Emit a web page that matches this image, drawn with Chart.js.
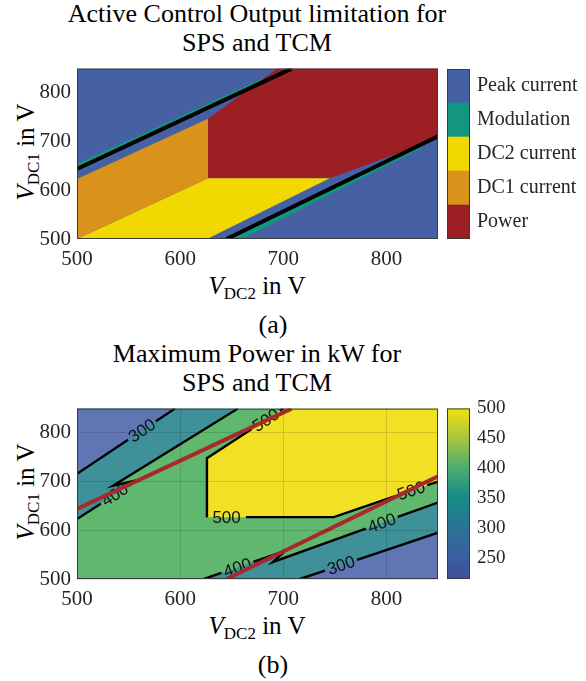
<!DOCTYPE html>
<html>
<head>
<meta charset="utf-8">
<script src="https://cdn.jsdelivr.net/npm/chart.js@4.4.1/dist/chart.umd.min.js"></script>
<style>
  body { margin: 0; background: #fff; }
  #page { position: relative; width: 586px; height: 681px; overflow: hidden; font-family: "Liberation Serif", "Times New Roman", "DejaVu Serif", serif; color: #000; }
  .t { position: absolute; white-space: nowrap; text-align: center; transform: translate(-50%, -50%); line-height: 1; }
  .big { font-size: 26px; }
  .lab { font-size: 25px; }
  .rot { transform: translate(-50%, -50%) rotate(-90deg); }
  .v { font-style: italic; }
  .sub { font-size: 0.68em; position: relative; top: 0.32em; }
  canvas { position: absolute; }
</style>
</head>
<body>
<div id="page">
  <div class="t big" style="left:257px;top:28px;line-height:29px">Active Control Output limitation for<br>SPS and TCM</div>
  <div class="t lab rot" style="left:25px;top:152px"><span class="v">V</span><span class="sub">DC1</span> in V</div>
  <div class="t lab" style="left:257px;top:285px"><span class="v">V</span><span class="sub">DC2</span> in V</div>
  <div class="t big" style="left:273px;top:325px">(a)</div>

  <div class="t big" style="left:257px;top:368px;line-height:29px">Maximum Power in kW for<br>SPS and TCM</div>
  <div class="t lab rot" style="left:25px;top:492px"><span class="v">V</span><span class="sub">DC1</span> in V</div>
  <div class="t lab" style="left:257px;top:625px"><span class="v">V</span><span class="sub">DC2</span> in V</div>
  <div class="t big" style="left:273px;top:665px">(b)</div>

  <canvas id="modeChart" width="445" height="230" style="left:0;top:50px"></canvas>
  <canvas id="modeBar" width="146" height="230" style="left:440px;top:50px"></canvas>
  <canvas id="powerChart" width="445" height="230" style="left:0;top:390px"></canvas>
  <canvas id="powerBar" width="146" height="230" style="left:440px;top:390px"></canvas>
</div>
<script>
const xTicks = [500, 600, 700, 800];
const yTicks = [500, 600, 700, 800];

// (a) operating modes, top to bottom as in the colour bar
const modeNames = ["Peak current", "Modulation", "DC2 current", "DC1 current", "Power"];
const modeColors = ["#4561a3", "#12967f", "#f1d800", "#d9931b", "#9b1f23"];

// regions as [VDC2, VDC1] corners
const peakRegion = [[500, 500], [850, 500], [850, 850], [500, 850]];
const modulationUpper = [[500, 640], [500, 654], [686, 836], [700, 842]];
const modulationLower = [[645, 500], [660, 500], [835, 688], [830, 692]];
const dc1Region = [[500, 500], [500, 623], [627, 747], [627, 625]];
const dc2Region = [[500, 500], [626, 500], [745, 625], [627, 625]];
const powerRegion = [[627, 625], [745, 625], [850, 706], [850, 850], [694, 850], [627, 747]];
const boundaryUpper = [[500, 644], [708, 850]];
const boundaryLower = [[645, 500], [850, 711]];

// (b) maximum power levels in kW
const levelColors = { below300: "#6076b4", from300: "#3e9199", from400: "#60b76e", above500: "#f2e024" };
const level400to500 = [[500, 500], [850, 500], [850, 850], [500, 850]];
const level300Upper = [[500, 623], [557.6, 702.5], [535, 691.5], [656, 850], [500, 850]];
const level300Lower = [[623, 500], [702, 558], [690, 535], [850, 657], [850, 500]];
const below300Upper = [[500, 716], [595, 850], [500, 850]];
const below300Lower = [[716, 500], [850, 595], [850, 500]];
const above500 = [[626, 748], [700, 850], [850, 850], [850, 700], [749, 627], [626, 627]];

// contour lines, null = gap for a label
const contour300 = [[500, 716], [549.5, 786], null, [576.5, 824], [595, 850], null,
  [716, 500], [740.5, 517.4], null, [771.5, 539.3], [850, 595]];
const contour400 = [[500, 623], [523, 654.7], null, [550.2, 692.3], [557.6, 702.5], [535, 691.5], [656, 850], null,
  [623, 500], [640, 512.5], null, [671, 535.2], [702, 558], [690, 535], [780, 603.7], null, [811, 627.4], [850, 657]];
const contour500 = [[700, 850], [696.6, 845.4], null, [669.4, 808], [626, 748], [626, 627], null,
  [663.8, 627], [749, 627], [808.5, 670.1], null, [839.5, 692.6], [850, 700]];
const contourLabels = [
  { text: "300", x: 563, y: 805, slope: 1.41 },
  { text: "300", x: 756, y: 528.4, slope: 0.709 },
  { text: "400", x: 536.6, y: 673.5, slope: 1.38 },
  { text: "400", x: 655.5, y: 523.9, slope: 0.734 },
  { text: "400", x: 795.5, y: 615.5, slope: 0.7625 },
  { text: "500", x: 683, y: 826.5, slope: 1.378 },
  { text: "500", x: 645, y: 627, slope: 0 },
  { text: "500", x: 824, y: 681.5, slope: 0.7228 }
];

// colour bar of (b)
const barRange = [215, 500];
const barTicks = [250, 300, 350, 400, 450, 500];
const barStops = [215, 250, 300, 350, 400, 450, 500];
const barColors = ["#3e4f9c", "#3b5ea1", "#2d7297", "#158b86", "#4aac71", "#a6c540", "#f3e010"];

const serif = "'Liberation Serif', 'Times New Roman', 'DejaVu Serif', serif";

function pts(list) {
  return list.map(p => p ? { x: p[0], y: p[1] } : { x: NaN, y: NaN });
}

function area(list, color, order) {
  return {
    data: pts(list.concat([list[0]])),
    fill: "shape",
    backgroundColor: color,
    borderColor: "rgba(0,0,0,0)",
    borderWidth: 0,
    pointRadius: 0,
    clip: 0,
    order
  };
}

function stroke(list, color, width, order, extra = {}) {
  return Object.assign({
    data: pts(list),
    fill: false,
    borderColor: color,
    borderWidth: width,
    borderCapStyle: "butt",
    borderJoinStyle: "miter",
    pointRadius: 0,
    clip: 0,
    order
  }, extra);
}

const framePlugin = {
  id: "frame",
  afterDraw(chart) {
    const { ctx, chartArea: a } = chart;
    ctx.save();
    ctx.strokeStyle = "#3a3a3a";
    ctx.lineWidth = 1;
    ctx.strokeRect(a.left + 0.5, a.top + 0.5, a.width - 1, a.height - 1);
    ctx.restore();
  }
};

const contourTextPlugin = {
  id: "contourText",
  beforeDatasetDraw(chart, args, opts) {
    if (!chart.data.datasets[args.index].labelsBefore || !opts.items) return;
    const { ctx, scales: { x, y } } = chart;
    opts.items.forEach(item => {
      const px = x.getPixelForValue(item.x);
      const py = y.getPixelForValue(item.y);
      const angle = Math.atan2(y.getPixelForValue(item.y + item.slope * 10) - py, x.getPixelForValue(item.x + 10) - px);
      ctx.save();
      ctx.translate(px, py);
      ctx.rotate(angle);
      ctx.font = "17px 'Liberation Sans', Arial, sans-serif";
      ctx.fillStyle = "#111";
      ctx.textAlign = "center";
      ctx.textBaseline = "middle";
      ctx.fillText(item.text, 0, 1);
      ctx.restore();
    });
  }
};

function plotOptions(showGrid, labels) {
  const tickFont = { family: serif, size: 21 };
  return {
    responsive: false,
    animation: false,
    events: [],
    layout: { padding: { left: 0, right: 7, top: 9, bottom: 1 } },
    plugins: {
      legend: { display: false },
      tooltip: { enabled: false },
      contourText: { items: labels }
    },
    scales: {
      x: {
        type: "linear", min: 500, max: 850,
        grid: { display: showGrid, color: "rgba(0,0,0,0.13)", drawTicks: false, z: 1 },
        border: { display: false },
        ticks: { font: tickFont, color: "#262626", padding: 8, maxRotation: 0 },
        afterBuildTicks: s => { s.ticks = xTicks.map(value => ({ value })); },
        afterFit: s => { s.height = 40; }
      },
      y: {
        type: "linear", min: 500, max: 850,
        grid: { display: showGrid, color: "rgba(0,0,0,0.13)", drawTicks: false, z: 1 },
        border: { display: false },
        ticks: { font: tickFont, color: "#262626", padding: 6 },
        afterBuildTicks: s => { s.ticks = yTicks.map(value => ({ value })); },
        afterFit: s => { s.width = 77; }
      }
    }
  };
}

function barOptions(yScale) {
  return {
    responsive: false,
    animation: false,
    events: [],
    layout: { padding: { left: 7, right: 0, top: 9, bottom: 41 } },
    plugins: { legend: { display: false }, tooltip: { enabled: false } },
    scales: {
      x: { display: false, stacked: true },
      y: Object.assign({
        position: "right",
        grid: { display: false, drawTicks: false },
        border: { display: false },
        afterFit: s => { s.width = 116; }
      }, yScale)
    }
  };
}

new Chart(document.getElementById("modeChart"), {
  type: "line",
  data: {
    datasets: [
      area(peakRegion, modeColors[0], 10),
      area(modulationUpper, modeColors[1], 9),
      area(modulationLower, modeColors[1], 9),
      area(dc1Region, modeColors[3], 8),
      area(dc2Region, modeColors[2], 8),
      area(powerRegion, modeColors[4], 8),
      stroke(boundaryUpper, "#000", 4, 1),
      stroke(boundaryLower, "#000", 4, 1)
    ]
  },
  options: plotOptions(false, null),
  plugins: [framePlugin]
});

// stacked from the bottom: Power first, Peak current on top
new Chart(document.getElementById("modeBar"), {
  type: "bar",
  data: {
    labels: [""],
    datasets: modeNames.map((name, i) => ({
      label: name,
      data: [1],
      backgroundColor: modeColors[i],
      borderWidth: 0,
      barPercentage: 1,
      categoryPercentage: 1
    })).reverse()
  },
  options: barOptions({
    stacked: true, min: 0, max: 5,
    ticks: {
      font: { family: serif, size: 20 }, color: "#262626", padding: 7,
      callback: value => modeNames[4 - Math.floor(value)]
    },
    afterBuildTicks: s => { s.ticks = modeNames.map((n, i) => ({ value: 4.5 - i })); }
  }),
  plugins: [framePlugin]
});

new Chart(document.getElementById("powerChart"), {
  type: "line",
  data: {
    datasets: [
      area(level400to500, levelColors.from400, 10),
      area(level300Upper, levelColors.from300, 9),
      area(level300Lower, levelColors.from300, 9),
      area(below300Upper, levelColors.below300, 8),
      area(below300Lower, levelColors.below300, 8),
      area(above500, levelColors.above500, 8),
      stroke(contour300, "#000", 2.4, 3),
      stroke(contour400, "#000", 2.4, 3),
      stroke(contour500, "#000", 2.4, 3),
      stroke(boundaryUpper, "#a8292c", 4, 1),
      stroke(boundaryLower, "#a8292c", 4, 2, { labelsBefore: true })
    ]
  },
  options: plotOptions(true, contourLabels),
  plugins: [contourTextPlugin, framePlugin]
});

new Chart(document.getElementById("powerBar"), {
  type: "bar",
  data: {
    labels: [""],
    datasets: [{
      data: [barRange],
      borderWidth: 0,
      barPercentage: 1,
      categoryPercentage: 1,
      backgroundColor: ctx => {
        const a = ctx.chart.chartArea;
        if (!a) return barColors[0];
        const g = ctx.chart.ctx.createLinearGradient(0, a.bottom, 0, a.top);
        barStops.forEach((v, i) => g.addColorStop((v - barRange[0]) / (barRange[1] - barRange[0]), barColors[i]));
        return g;
      }
    }]
  },
  options: barOptions({
    min: barRange[0], max: barRange[1],
    ticks: { font: { family: serif, size: 19 }, color: "#262626", padding: 7 },
    afterBuildTicks: s => { s.ticks = barTicks.map(value => ({ value })); }
  }),
  plugins: [framePlugin]
});
</script>
</body>
</html>
